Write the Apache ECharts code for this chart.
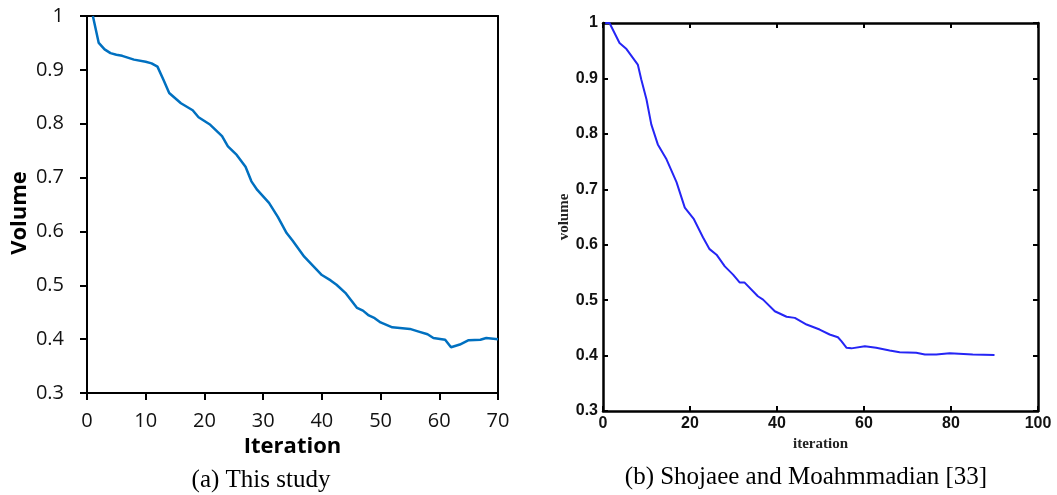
<!DOCTYPE html>
<html>
<head>
<meta charset="utf-8">
<script src="https://cdn.jsdelivr.net/npm/echarts@6/dist/echarts.min.js"></script>
<style>
  html, body { margin: 0; padding: 0; background: #fff; }
  #chart { width: 1057px; height: 495px; }
</style>
</head>
<body>
<div id="chart"></div>
<script>
// (a) this study
const iterA = [1, 2, 3, 4, 5, 6, 8, 10, 11, 12, 13, 14, 16, 18, 19, 21, 23, 24, 25.5, 27, 28, 29, 31, 32.5, 34, 35, 37, 40, 41.5, 42.5, 44, 46, 47, 48, 49, 50, 52, 55, 56.5, 58, 59, 61, 62, 63.5, 65, 67, 68, 70]
const volA = [1.0, 0.95, 0.938, 0.931, 0.928, 0.926, 0.919, 0.915, 0.912, 0.906, 0.882, 0.857, 0.838, 0.825, 0.812, 0.798, 0.777, 0.758, 0.742, 0.72, 0.693, 0.677, 0.653, 0.627, 0.597, 0.583, 0.553, 0.519, 0.509, 0.501, 0.486, 0.458, 0.453, 0.444, 0.439, 0.431, 0.422, 0.419, 0.414, 0.409, 0.402, 0.399, 0.385, 0.39, 0.398, 0.399, 0.402, 0.4]

// (b) Shojaee and Moahmmadian
const iterB = [0.5, 1.5, 3.8, 5.4, 8, 8.8, 10, 11.1, 12.6, 14.6, 16.9, 18.8, 20.9, 23, 24.5, 26.1, 28, 29.9, 31.4, 32.5, 35.6, 36.8, 39.5, 42.2, 44.1, 46.8, 49.8, 52.1, 54, 54.8, 56, 57.1, 60.2, 62.8, 65.9, 68.2, 72, 74, 76.6, 79.7, 85, 90]
const volB = [1.0, 1.0, 0.964, 0.953, 0.925, 0.898, 0.862, 0.817, 0.781, 0.754, 0.713, 0.667, 0.646, 0.613, 0.592, 0.582, 0.561, 0.546, 0.532, 0.532, 0.507, 0.501, 0.48, 0.47, 0.468, 0.456, 0.447, 0.438, 0.433, 0.426, 0.414, 0.413, 0.417, 0.414, 0.409, 0.406, 0.405, 0.402, 0.402, 0.404, 0.402, 0.401]

const captions = ['(a) This study', '(b) Shojaee and Moahmmadian [33]']

const zip = (xs, ys) => xs.map((x, i) => [x, ys[i]])

const sansA = 'Open Sans'
const lineA = { show: true, onZero: false, lineStyle: { color: '#000', width: 2 } }
const lineB = { show: true, onZero: false, lineStyle: { color: '#000', width: 2.5 } }
const tickB = { show: true, inside: true, length: 5, lineStyle: { color: '#000', width: 2 } }
const labelB = { fontFamily: 'Liberation Sans', fontWeight: 'bold', fontSize: 16, color: '#111', margin: 5 }

const chart = echarts.init(document.getElementById('chart'))
chart.setOption({
  animation: false,
  grid: [
    { left: 87, top: 16, width: 411, height: 377 },
    { left: 603, top: 23, width: 435, height: 388 }
  ],
  xAxis: [
    {
      gridIndex: 0, type: 'value', min: 0, max: 70, interval: 10, position: 'bottom',
      name: 'Iteration', nameLocation: 'middle', nameGap: 37,
      nameTextStyle: { fontFamily: sansA, fontWeight: 'bold', fontSize: 22, color: '#000' },
      axisLine: lineA,
      axisTick: { show: true, length: 7, lineStyle: { color: '#000', width: 2 } },
      axisLabel: { fontFamily: sansA, fontSize: 20, color: '#111', margin: 18 },
      splitLine: { show: false }
    },
    {
      gridIndex: 0, type: 'value', min: 0, max: 70, position: 'top',
      axisLine: lineA, axisTick: { show: false }, axisLabel: { show: false }, splitLine: { show: false }
    },
    {
      gridIndex: 1, type: 'value', min: 0, max: 100, interval: 20, position: 'bottom',
      name: 'iteration', nameLocation: 'middle', nameGap: 24,
      nameTextStyle: { fontFamily: 'Liberation Serif', fontWeight: 'bold', fontSize: 15, color: '#222' },
      axisLine: lineB, axisTick: tickB, axisLabel: labelB, splitLine: { show: false }
    },
    {
      gridIndex: 1, type: 'value', min: 0, max: 100, interval: 20, position: 'top',
      axisLine: lineB, axisTick: tickB, axisLabel: { show: false }, splitLine: { show: false }
    }
  ],
  yAxis: [
    {
      gridIndex: 0, type: 'value', min: 0.3, max: 1, interval: 0.1, position: 'left',
      axisLine: lineA,
      axisTick: { show: true, length: 7, lineStyle: { color: '#000', width: 2 } },
      axisLabel: { fontFamily: sansA, fontSize: 20, color: '#111', margin: 23 },
      splitLine: { show: false }
    },
    {
      gridIndex: 0, type: 'value', min: 0.3, max: 1, position: 'right',
      axisLine: lineA, axisTick: { show: false }, axisLabel: { show: false }, splitLine: { show: false }
    },
    {
      gridIndex: 1, type: 'value', min: 0.3, max: 1, interval: 0.1, position: 'left',
      name: 'volume', nameLocation: 'middle', nameGap: 30,
      nameTextStyle: { fontFamily: 'Liberation Serif', fontWeight: 'bold', fontSize: 15, color: '#222' },
      axisLine: lineB, axisTick: tickB, axisLabel: labelB, splitLine: { show: false }
    },
    {
      gridIndex: 1, type: 'value', min: 0.3, max: 1, interval: 0.1, position: 'right',
      axisLine: lineB, axisTick: tickB, axisLabel: { show: false }, splitLine: { show: false }
    }
  ],
  series: [
    {
      type: 'line', xAxisIndex: 0, yAxisIndex: 0, data: zip(iterA, volA),
      showSymbol: false, lineStyle: { color: '#0070C0', width: 2.5 }
    },
    {
      type: 'line', xAxisIndex: 2, yAxisIndex: 2, data: zip(iterB, volB),
      showSymbol: false, lineStyle: { color: '#2525f5', width: 2 }
    }
  ],
  graphic: [
    {
      type: 'text', x: 20, y: 213, rotation: Math.PI / 2,
      style: { text: 'Volume', font: 'bold 22px "Open Sans"', fill: '#000', align: 'center', verticalAlign: 'middle', textAlign: 'center', textVerticalAlign: 'middle' }
    },
    {
      type: 'text', x: 261, y: 480,
      style: { text: captions[0], font: '25px "Liberation Serif"', fill: '#000', align: 'center', verticalAlign: 'middle', textAlign: 'center', textVerticalAlign: 'middle' }
    },
    {
      type: 'text', x: 806, y: 477,
      style: { text: captions[1], font: '25px "Liberation Serif"', fill: '#000', align: 'center', verticalAlign: 'middle', textAlign: 'center', textVerticalAlign: 'middle' }
    }
  ]
})
</script>
</body>
</html>
